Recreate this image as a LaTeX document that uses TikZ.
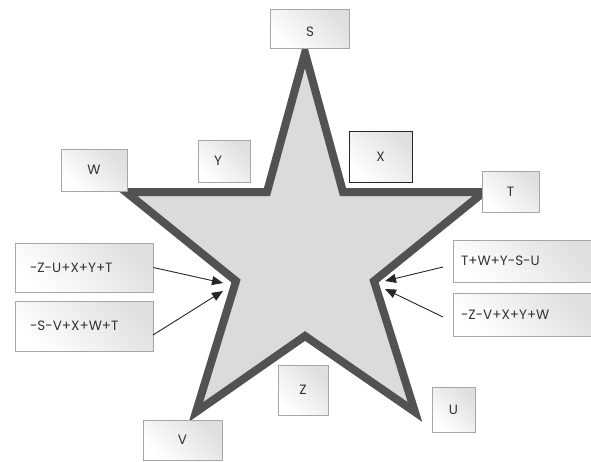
\documentclass[tikz,border=0pt]{standalone}
\usepackage{fontspec}
\setmainfont{Poppins}
\usetikzlibrary{arrows.meta}
\begin{document}
\begin{tikzpicture}[x=1pt,y=-1pt,
  lab/.style={font=\fontsize{13.5}{15}\selectfont, text=black!80},
  box/.style={draw=gray!70, line width=0.9pt, inner sep=0pt,
    left color=white, right color=gray!25, shading angle=135, lab},
  starline/.style={draw=black!68, line width=8pt, line join=miter,
    fill=gray!28},
  arr/.style={-{Triangle[length=11pt,width=9pt]}, line width=0.9pt, black!85, shorten >=0pt}]
\useasboundingbox (0,0) rectangle (591,461);
% star
\coordinate (pS) at (305,53);
\coordinate (iTR) at (343,192);
\coordinate (pT) at (484,192);
\coordinate (iR) at (374,281);
\coordinate (pU) at (415,412);
\coordinate (iB) at (305,336);
\coordinate (pV) at (196,412);
\coordinate (iL) at (236,281);
\coordinate (pW) at (126,192);
\coordinate (iTL) at (267,192);
\draw[starline] (pS) -- (iTR) -- (pT) -- (iR) -- (pU) -- (iB) -- (pV) -- (iL) -- (pW) -- (iTL) -- cycle;
% label boxes
\node[box, minimum width=79pt, minimum height=39pt] (S) at (309.5,28.5) {};
\node[lab] (Slab) at (310,32) {S};
\node[box, minimum width=66pt, minimum height=42pt] (W) at (94,170) {W};
\node[box, minimum width=52pt, minimum height=42pt] (Y) at (224,161) {\hspace*{-12pt}Y};
\node[box, draw=black!85, minimum width=63pt, minimum height=51pt] (X) at (380.5,156.5) {X};
\node[box, minimum width=57pt, minimum height=41pt] (T) at (510.5,191.5) {T};
\node[box, minimum width=50pt, minimum height=50pt] (Z) at (303,390) {Z};
\node[box, minimum width=43pt, minimum height=45pt] (U) at (453.5,409.5) {U};
\node[box, minimum width=79pt, minimum height=40pt] (V) at (182.5,440) {V};
% formula boxes
\node[box, minimum width=138pt, minimum height=49pt, text width=124pt, align=left] (F1) at (84,267.5) {\hspace*{8pt}-Z-U+X+Y+T};
\node[box, minimum width=138pt, minimum height=50pt, text width=124pt, align=left] (F2) at (84,326) {\hspace*{8pt}-S-V+X+W+T};
\node[box, minimum width=140pt, minimum height=42pt, text width=126pt, align=left] (F3) at (523,261) {\hspace*{1pt}T+W+Y-S-U};
\node[box, minimum width=140pt, minimum height=43pt, text width=126pt, align=left] (F4) at (523,314.5) {\hspace*{1pt}-Z-V+X+Y+W};
% arrows
\coordinate (aL1) at (223,283);
\coordinate (aL2) at (223,291);
\coordinate (aR1) at (385,281);
\coordinate (aR2) at (385,289);
\coordinate (sF2) at (153,335);
\coordinate (sF3) at (443,267);
\coordinate (sF4) at (443,317);
\draw[arr] (F1.east) -- (aL1);
\draw[arr] (sF2) -- (aL2);
\draw[arr] (sF3) -- (aR1);
\draw[arr] (sF4) -- (aR2);
\end{tikzpicture}
\end{document}
